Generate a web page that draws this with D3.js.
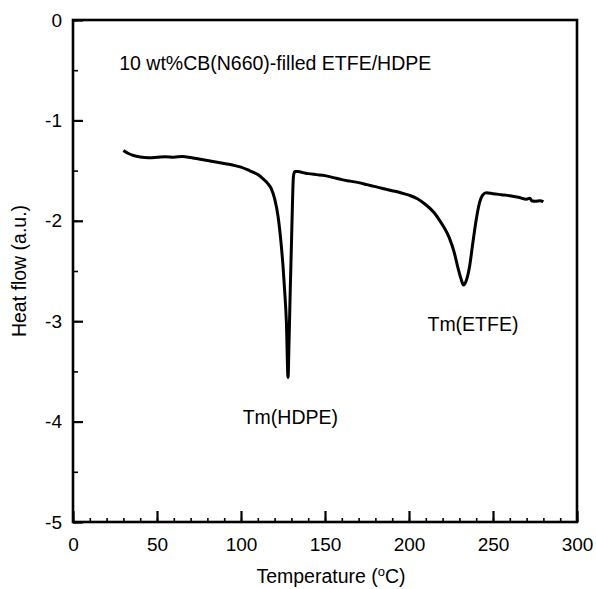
<!DOCTYPE html>
<html lang="en">
<head>
<meta charset="UTF-8">
<title>DSC ETFE/HDPE</title>
<script src="https://d3js.org/d3.v7.min.js"></script>
<style>
  body { margin: 0; background: #fff; }
  text { font-family: "Liberation Sans", Arial, sans-serif; fill: #000; }
</style>
</head>
<body>
<svg width="596" height="589"></svg>
<script>
    // values
    const temperature = [30, 33, 36, 40, 45, 50, 55, 60, 65, 70, 75, 80, 85, 90, 95, 100, 105, 110, 113, 116,
        118, 120, 122, 124, 125, 126, 127, 128, 128.6, 129.3, 130, 130.6, 131.2, 132, 134, 137, 140, 145, 150,
        155, 160, 165, 170, 175, 180, 185, 190, 195, 200, 205, 210, 215, 218, 221, 224, 227, 229, 231, 232.5,
        234, 236, 238, 240, 242, 244, 246, 250, 255, 260, 265, 270, 272, 273, 275, 278, 280];
    const heatFlow = [-1.30, -1.33, -1.35, -1.365, -1.372, -1.368, -1.362, -1.366, -1.36, -1.37, -1.385, -1.40,
        -1.415, -1.43, -1.445, -1.465, -1.50, -1.54, -1.58, -1.63, -1.68, -1.78, -1.95, -2.25, -2.45, -2.70,
        -3.00, -3.56, -3.20, -2.70, -2.25, -1.85, -1.56, -1.51, -1.51, -1.52, -1.53, -1.54, -1.55, -1.57,
        -1.59, -1.605, -1.62, -1.64, -1.66, -1.68, -1.70, -1.72, -1.745, -1.78, -1.84, -1.92, -1.99, -2.07,
        -2.17, -2.32, -2.46, -2.58, -2.64, -2.60, -2.46, -2.22, -1.99, -1.82, -1.74, -1.72, -1.73, -1.74,
        -1.75, -1.765, -1.785, -1.775, -1.80, -1.805, -1.80, -1.81];
    const xTicks = [0, 50, 100, 150, 200, 250, 300];
    const yTicks = [0, -1, -2, -3, -4, -5];
    const notes = [
        {text: "10 wt%CB(N660)-filled ETFE/HDPE", t: 27.5, h: -0.5},
        {text: "Tm(HDPE)", t: 101, h: -4.02},
        {text: "Tm(ETFE)", t: 211, h: -3.1}
    ];

    const svg = d3.select("svg"),
        margin = {top: 20, right: 19, bottom: 67, left: 73},
        width = +svg.attr("width") - margin.left - margin.right,
        height = +svg.attr("height") - margin.top - margin.bottom,
        g = svg.append("g").attr("transform", `translate(${margin.left},${margin.top})`);

    const x = d3.scaleLinear().domain([0, 300]).range([0, width]);
    const y = d3.scaleLinear().domain([-5, 0]).range([height, 0]);

    // minor ticks
    g.append("g")
        .attr("transform", `translate(0,${height})`)
        .call(d3.axisBottom(x).tickValues(d3.range(0, 301, 10)).tickSize(-4).tickFormat(""))
        .call(a => a.select(".domain").remove());
    g.append("g")
        .call(d3.axisLeft(y).tickValues(d3.range(-5, 0.01, 0.5)).tickSize(-5).tickFormat(""))
        .call(a => a.select(".domain").remove());

    // major ticks + labels (plain hyphen for minus, as in the figure)
    const xAxis = g.append("g")
        .attr("transform", `translate(0,${height})`)
        .call(d3.axisBottom(x).tickValues(xTicks).tickSize(-11).tickPadding(16).tickFormat(d => String(d)));
    const yAxis = g.append("g")
        .call(d3.axisLeft(y).tickValues(yTicks).tickSize(-10).tickPadding(11).tickFormat(d => String(d)));

    g.selectAll(".tick line").attr("stroke-width", 1.6);
    g.selectAll(".tick text").attr("font-size", 19).attr("font-family", "Liberation Sans, Arial, sans-serif");
    xAxis.selectAll(".tick line").attr("stroke-width", 2.2);
    yAxis.selectAll(".tick line").attr("stroke-width", 2.2);
    g.selectAll(".domain").remove();

    // frame
    g.append("rect")
        .attr("width", width).attr("height", height)
        .attr("fill", "none").attr("stroke", "#000").attr("stroke-width", 2.6);

    const line = d3.line()
        .x((d, i) => x(temperature[i]))
        .y(d => y(d))
        .curve(d3.curveMonotoneX);

    g.append("path")
        .datum(heatFlow)
        .attr("d", line)
        .attr("fill", "none")
        .attr("stroke", "#000")
        .attr("stroke-width", 3)
        .attr("stroke-linejoin", "round");

    g.selectAll(".note")
        .data(notes)
        .join("text")
        .attr("class", "note")
        .attr("x", d => x(d.t))
        .attr("y", d => y(d.h))
        .attr("font-size", 19.5)
        .text(d => d.text);

    // axis titles
    const xt = svg.append("text")
        .attr("x", margin.left + width / 2 + 6)
        .attr("y", 583)
        .attr("text-anchor", "middle")
        .attr("font-size", 19.5);
    xt.append("tspan").text("Temperature (");
    xt.append("tspan").attr("dy", -7).attr("font-size", 13).text("o");
    xt.append("tspan").attr("dy", 7).text("C)");

    svg.append("text")
        .attr("transform", `translate(26,${margin.top + height / 2}) rotate(-90)`)
        .attr("text-anchor", "middle")
        .attr("font-size", 19.5)
        .text("Heat flow (a.u.)");
</script>
</body>
</html>
